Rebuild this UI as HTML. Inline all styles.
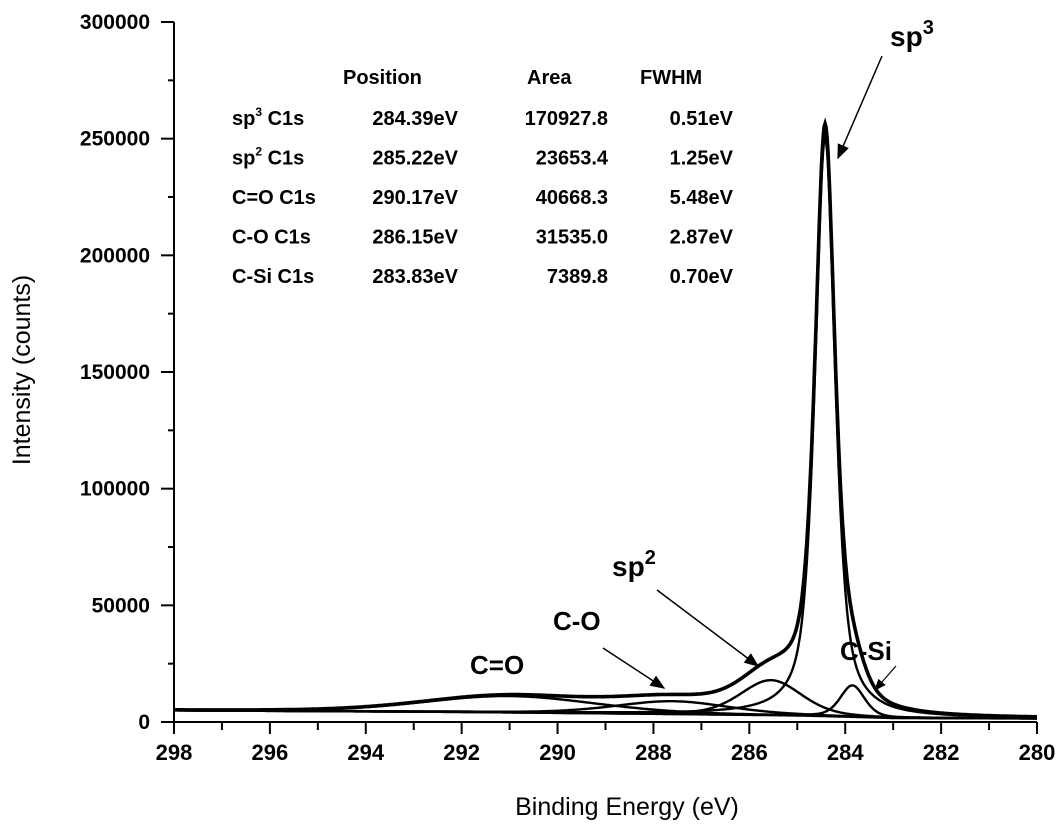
<!DOCTYPE html>
<html><head><meta charset="utf-8"><style>
body{margin:0;background:#fff}
svg{display:block;font-family:"Liberation Sans",Arial,sans-serif}
.b{font-weight:bold}
</style></head><body>
<svg id="c" width="1060" height="833" viewBox="0 0 1060 833">
<defs><marker id="ah" markerWidth="10" markerHeight="8" refX="9" refY="4" orient="auto"><path d="M0,0 L10,4 L0,8 Z" fill="#000"/></marker></defs>
<g id="axes"></g>
<g id="curves"></g>
<g id="table" class="b" font-size="20">
<text x="343" y="84">Position</text>
<text x="527" y="84">Area</text>
<text x="640" y="84">FWHM</text>
</g>
<g class="b" font-size="26">
<text x="890" y="46" font-size="28">sp<tspan font-size="20" dy="-12">3</tspan></text>
<line x1="882" y1="56" x2="838" y2="158" stroke="#000" stroke-width="1.5" marker-end="url(#ah)"/>
<text x="612" y="576" font-size="28">sp<tspan font-size="20" dy="-12">2</tspan></text>
<line x1="657" y1="590" x2="758" y2="666" stroke="#000" stroke-width="1.5" marker-end="url(#ah)"/>
<text x="553" y="630">C-O</text>
<line x1="603" y1="648" x2="664" y2="688" stroke="#000" stroke-width="1.5" marker-end="url(#ah)"/>
<text x="470" y="674">C=O</text>
<text x="840" y="660">C-Si</text>
<line x1="896" y1="666" x2="875" y2="690" stroke="#000" stroke-width="1.2" marker-end="url(#ah)"/>
</g>
</svg>
<script>
// Data
const rowNames=["sp3 C1s","sp2 C1s","C=O C1s","C-O C1s","C-Si C1s"];
const positions=["284.39eV","285.22eV","290.17eV","286.15eV","283.83eV"];
const areas=["170927.8","23653.4","40668.3","31535.0","7389.8"];
const fwhms=["0.51eV","1.25eV","5.48eV","2.87eV","0.70eV"];
const xTicks=[298,296,294,292,290,288,286,284,282,280];
const yTicks=[0,50000,100000,150000,200000,250000,300000];
// fitted components (visual estimates)
const peakNames=["sp3","sp2","c-eq-o","c-o","c-si"];
const peakCenters=[284.42,285.55,291.0,287.6,283.85];
const peakHeights=[248000,15000,7000,5500,13500];
const peakWidths=[0.5,1.5,4.2,2.8,0.6];
const peakMix=[0.65,0.3,0.2,0.3,0.4];
const bgE=[298,292,288,285,284,283,280];
const bgV=[5000,4300,3500,2800,2300,1700,1500];

const NS="http://www.w3.org/2000/svg";
const X0=174,X1=1037,Y0=722,Y1=22;
const xs=e=>X0+(298-e)/(298-280)*(X1-X0);
const ys=v=>Y0-v/300000*(Y0-Y1);
function mk(t,a,p){const e=document.createElementNS(NS,t);for(const k in a)e.setAttribute(k,a[k]);(p||document.getElementById('c')).appendChild(e);return e;}
const ax=document.getElementById('axes'),cv=document.getElementById('curves'),tb=document.getElementById('table');

let l=mk('line',{x1:X0,y1:Y0,x2:X1,y2:Y0,stroke:'#000','stroke-width':2},ax);


l=mk('line',{x1:X0,y1:Y0,x2:X0,y2:Y1,stroke:'#000','stroke-width':2},ax);


for(let e=280;e<=298;e++){const maj=(e%2===0);mk('line',{x1:xs(e),y1:Y0,x2:xs(e),y2:Y0+(maj?12:8),stroke:'#000','stroke-width':2},ax);}
xTicks.forEach(t=>{const tx=mk('text',{x:xs(t),y:760,'text-anchor':'middle','font-size':22,'font-weight':'bold'},ax);tx.textContent=t;

});
for(let v=0;v<=300000;v+=25000){const maj=(v%50000===0);mk('line',{x1:X0,y1:ys(v),x2:X0-(maj?13:6),y2:ys(v),stroke:'#000','stroke-width':2},ax);}
yTicks.forEach(t=>{const tx=mk('text',{x:150,y:ys(t)+7,'text-anchor':'end','font-size':21,'font-weight':'bold'},ax);tx.textContent=t;

});
let tt=mk('text',{x:627,y:815,'text-anchor':'middle','font-size':25},ax);tt.textContent="Binding Energy (eV)";


tt=mk('text',{x:0,y:0,'text-anchor':'middle','font-size':25,transform:'translate(30,370) rotate(-90)'},ax);tt.textContent="Intensity (counts)";



// table rows
rowNames.forEach((n,i)=>{const y=125+i*39.5;
 const a=mk('text',{x:232,y:y},tb);
 if(i<2){const base=n.slice(0,2);a.textContent=base;const s=mk('tspan',{'font-size':12,dy:-9},a);s.textContent=n[2];const r=mk('tspan',{dy:9},a);r.textContent=" "+n.slice(4);}
 else a.textContent=n;
 
 
 const p=mk('text',{x:458,y:y,'text-anchor':'end'},tb);p.textContent=positions[i];
 
 
 const ar=mk('text',{x:608,y:y,'text-anchor':'end'},tb);ar.textContent=areas[i];
 
 
 const f=mk('text',{x:733,y:y,'text-anchor':'end'},tb);f.textContent=fwhms[i];
 
 
});

function bg(e){for(let i=0;i<bgE.length-1;i++){if(e<=bgE[i]&&e>=bgE[i+1]){const t=(bgE[i]-e)/(bgE[i]-bgE[i+1]);return bgV[i]+t*(bgV[i+1]-bgV[i]);}}return bgV[bgV.length-1];}
function pk(i,e){const d=(e-peakCenters[i])/(peakWidths[i]/2);const L=1/(1+d*d),G=Math.exp(-Math.LN2*d*d);return peakHeights[i]*(peakMix[i]*L+(1-peakMix[i])*G);}
function path(f){let d="";for(let e=298;e>=280-1e-9;e-=0.02){d+=(d?"L":"M")+xs(e).toFixed(1)+","+ys(f(e)).toFixed(1);}return d;}
peakNames.forEach((n,i)=>{const p=mk('path',{d:path(e=>bg(e)+pk(i,e)),fill:'none',stroke:'#000','stroke-width':2.4},cv);

});
let bp=mk('path',{d:path(bg),fill:'none',stroke:'#000','stroke-width':2.4},cv);


let env=mk('path',{d:path(e=>{let s=bg(e);for(let i=0;i<peakNames.length;i++)s+=pk(i,e);return s;}),fill:'none',stroke:'#000','stroke-width':3.6},cv);


</script>
</body></html>
